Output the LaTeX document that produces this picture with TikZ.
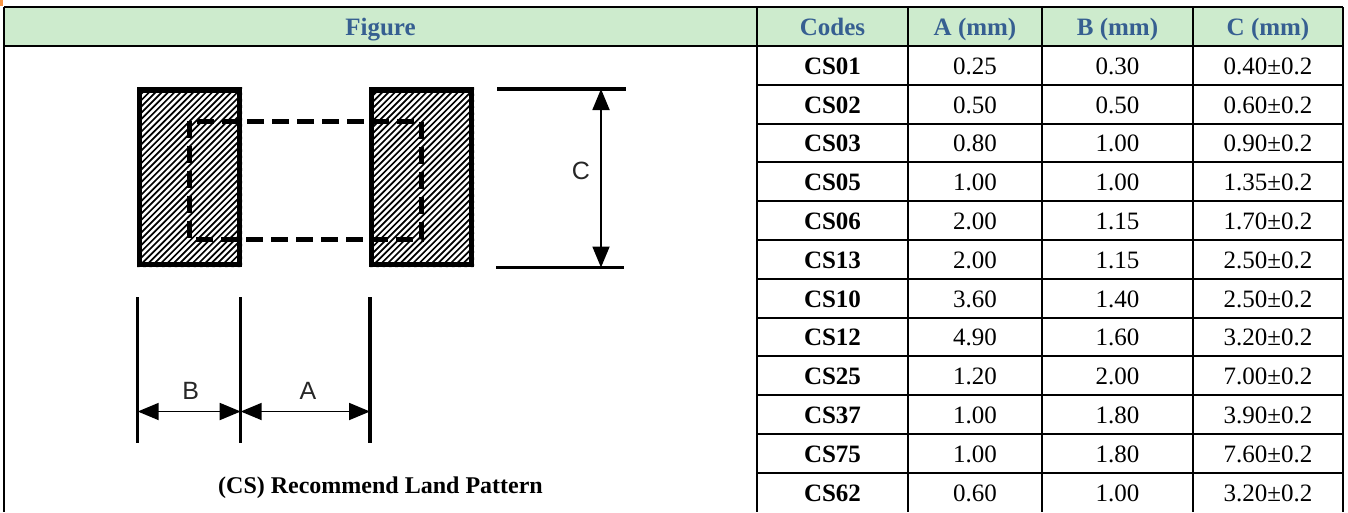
\documentclass[tikz,border=0pt]{standalone}
\usepackage{fontspec}
\setmainfont{Liberation Serif}
\newfontfamily\dimfont{Liberation Sans}
\usetikzlibrary{arrows.meta}
\definecolor{hdrfill}{HTML}{CDEBCD}
\definecolor{hdrtext}{HTML}{365F91}
\definecolor{orangemark}{HTML}{F79646}
\begin{document}
\begin{tikzpicture}[x=1pt,y=-1pt,
  grid/.style={line width=2pt, black},
  hdr/.style={font=\fontsize{25}{30}\selectfont\bfseries, text=hdrtext, anchor=base, inner sep=0pt},
  code/.style={font=\fontsize{25}{30}\selectfont\bfseries, anchor=base, inner sep=0pt},
  val/.style={font=\fontsize{25}{30}\selectfont, anchor=base, inner sep=0pt},
  padbox/.style={line width=5.5pt},
  hatchline/.style={line width=1.7pt},
  dashbox/.style={line width=5pt, dash pattern=on 17pt off 8pt},
  dimarrow/.style={line width=1.8pt, {Triangle[length=21pt,width=17pt]}-{Triangle[length=21pt,width=17pt]}},
  extline/.style={line width=3.2pt},
  dimlabel/.style={font=\dimfont\fontsize{25}{30}\selectfont, text=black!85, inner sep=0pt, anchor=center},
  ]
\useasboundingbox (0,0) rectangle (1348,512);
\fill[orangemark] (0,0) rectangle (2.7,6);

% ---- table ----
\fill[hdrfill] (4,7) rectangle (1343,46);
\draw[grid] (4,7) -- (1343,7);
\draw[grid] (4,46) -- (1343,46);
\foreach \k in {1,...,11} {
  \draw[grid] (757,{46+38.8*\k}) -- (1343,{46+38.8*\k});
}
\foreach \x in {4,757,908,1042,1193,1343} {
  \draw[grid] (\x,7) -- (\x,512);
}
\node[hdr] (hFig) at (380.5,35.5) {Figure};
\node[hdr] (hCode) at (832.5,35.5) {Codes};
\node[hdr] (hA) at (975,35.5) {A (mm)};
\node[hdr] (hB) at (1117.5,35.5) {B (mm)};
\node[hdr] (hC) at (1268,35.5) {C (mm)};
\foreach \c/\a/\b/\cc [count=\i] in {CS01/0.25/0.30/0.40, CS02/0.50/0.50/0.60, CS03/0.80/1.00/0.90, CS05/1.00/1.00/1.35, CS06/2.00/1.15/1.70, CS13/2.00/1.15/2.50, CS10/3.60/1.40/2.50, CS12/4.90/1.60/3.20, CS25/1.20/2.00/7.00, CS37/1.00/1.80/3.90, CS75/1.00/1.80/7.60, CS62/0.60/1.00/3.20} {
  \pgfmathsetmacro{\yb}{46+38.8*(\i-0.5)+8.8}
  \node[code] (code\i) at (832.5,\yb) {\c};
  \node[val] (a\i) at (975,\yb) {\a};
  \node[val] (b\i) at (1117.5,\yb) {\b};
  \node[val] (c\i) at (1268,\yb) {\cc±0.2};
}

% ---- figure ----
\coordinate (lpTL) at (139.5,90);
\coordinate (lpBR) at (239.5,264.5);
\coordinate (rpTL) at (371.5,90);
\coordinate (rpBR) at (471.5,264.5);
\begin{scope}
  \clip (137,87) rectangle (242,267) (369,87) rectangle (474,267);
  \foreach \x in {-60,-53.7,...,480} {
    \draw[hatchline] (\x,270) -- ++(190,-190);
  }
\end{scope}
\coordinate (dTL) at (189,121);
\coordinate (dBR) at (421,239);
\draw[dashbox] (dTL) rectangle (dBR);
\draw[padbox] (lpTL) rectangle (lpBR);
\draw[padbox] (rpTL) rectangle (rpBR);

% C dimension
\coordinate (cT1) at (497,89);
\coordinate (cT2) at (626,89);
\coordinate (cB1) at (496,267.5);
\coordinate (cB2) at (624,267.5);
\coordinate (cAT) at (601,89);
\coordinate (cAB) at (601,267.5);
\draw[extline] (cT1) -- (cT2);
\draw[extline] (cB1) -- (cB2);
\draw[dimarrow] (cAT) -- (cAB);
\node[dimlabel] (labC) at (581,171) {C};

% A / B dimensions
\coordinate (e1T) at (137.7,297);
\coordinate (e1B) at (137.7,443);
\coordinate (e2T) at (240.7,297);
\coordinate (e2B) at (240.7,443);
\coordinate (e3T) at (370,297);
\coordinate (e3B) at (370,443);
\draw[extline] (e1T) -- (e1B);
\draw[extline] (e2T) -- (e2B);
\draw[extline] (e3T) -- (e3B);
\coordinate (bL) at (137.7,411.5);
\coordinate (bR) at (240.7,411.5);
\coordinate (aR) at (370,411.5);
\draw[dimarrow] (bL) -- (bR);
\draw[dimarrow] (bR) -- (aR);
\node[dimlabel] (labB) at (190.7,391) {B};
\node[dimlabel] (labA) at (308,391) {A};

\node[code, font=\fontsize{24}{28}\selectfont\bfseries] (caption) at (380.5,493) {(CS) Recommend Land Pattern};
\end{tikzpicture}
\end{document}
